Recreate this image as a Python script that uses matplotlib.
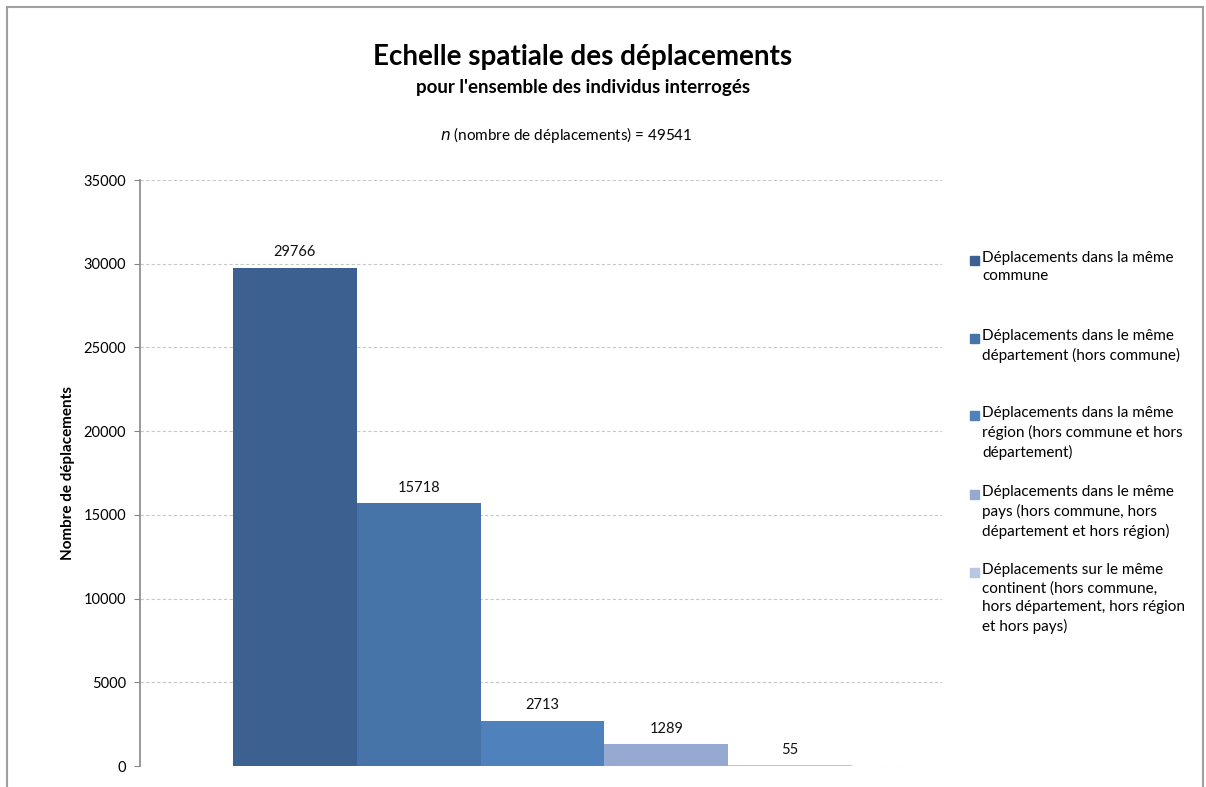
import matplotlib
matplotlib.use("Agg")
import matplotlib.pyplot as plt
from matplotlib.patches import Rectangle

# données
categories = [
    "Déplacements dans la même\ncommune",
    "Déplacements dans le même\ndépartement (hors commune)",
    "Déplacements dans la même\nrégion (hors commune et hors\ndépartement)",
    "Déplacements dans le même\npays (hors commune, hors\ndépartement et hors région)",
    "Déplacements sur le même\ncontinent (hors commune,\nhors département, hors région\net hors pays)",
]
values = [29766, 15718, 2713, 1289, 55]
colors = ["#3C6190", "#4674A8", "#4F81BD", "#95A9D1", "#B7C6E3"]
yticks = [0, 5000, 10000, 15000, 20000, 25000, 30000, 35000]

plt.rcParams['font.family'] = ['Lato', 'DejaVu Sans']

W, H = 1206, 787
fig = plt.figure(figsize=(W / 100, H / 100), dpi=100)
ax = fig.add_axes([140 / W, 1 - 766 / H, (942 - 140) / W, (766 - 180) / H])

bw = 1.0
xs = [i * bw for i in range(len(values))]
for x, v, c, lab in zip(xs, values, colors, categories):
    b = ax.bar(x, v, width=bw, color=c, align="center", label=lab, zorder=2)
    ax.bar_label(b, labels=[str(v)], padding=6, fontsize=10.5, color="#111111")

# 233..852 px pour les barres sur 140..942
ppx = (852 - 233) / 5.0
left = -0.5 - (233 - 140) / ppx
right = 4.5 + (942 - 852) / ppx
ax.set_xlim(left, right)
ax.set_ylim(0, 35000)
ax.set_yticks(yticks)
ax.set_yticklabels([str(t) for t in yticks], fontsize=10.5)
ax.set_xticks([])
ax.yaxis.grid(True, color="#C8C8C8", linestyle=(0, (3, 2)), linewidth=0.8, zorder=0)
ax.set_axisbelow(True)
for s in ["top", "right", "bottom"]:
    ax.spines[s].set_visible(False)
ax.spines["left"].set_color("#888888")
ax.spines["left"].set_linewidth(1.2)
ax.tick_params(axis="y", length=4, color="#888888", pad=6)
ax.set_ylabel("Nombre de déplacements", fontsize=11, fontweight="bold", labelpad=6)

fig.text(583 / W, 1 - 57 / H, "Echelle spatiale des déplacements",
         ha="center", va="center", fontsize=20, fontweight="bold")
fig.text(583 / W, 1 - 87 / H, "pour l'ensemble des individus interrogés",
         ha="center", va="center", fontsize=13.5, fontweight="bold")
fig.text(566 / W, 1 - 135 / H, "$\\it{n}$ (nombre de déplacements) = 49541",
         ha="center", va="center", fontsize=11)

# légende
leg_y = [260, 338, 415, 494, 572]
for lab, c, y in zip(categories, colors, leg_y):
    fig.add_artist(Rectangle((970 / W, 1 - (y + 5) / H), 9 / W, 9 / H,
                             transform=fig.transFigure, color=c))
    fig.text(982 / W, 1 - (y - 9) / H, lab, ha="left", va="top",
             fontsize=11, linespacing=1.4)

# cadre
fig.add_artist(Rectangle((7 / W, -0.01), (1203 - 7) / W, 1 - 7 / H + 0.01,
                         transform=fig.transFigure, fill=False,
                         edgecolor="#A0A0A0", linewidth=1.5))

fig.savefig("out.png", dpi=100)
